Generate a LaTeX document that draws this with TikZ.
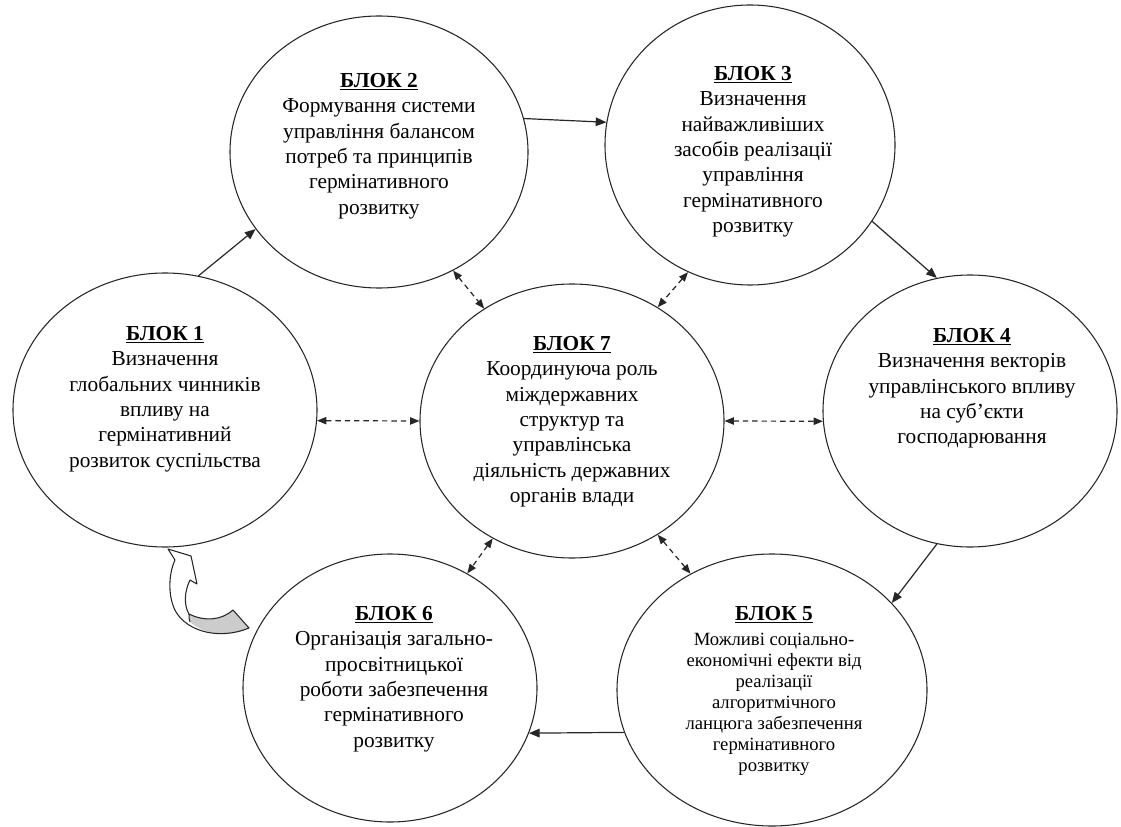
\documentclass[tikz,border=0pt]{standalone}
\usepackage{fontspec}
\setmainfont{Liberation Serif}
\usetikzlibrary{shapes.geometric,arrows.meta}
\begin{document}
\begin{tikzpicture}[x=0.75pt,y=-0.75pt,
  blk/.style={ellipse,draw=black!85,line width=0.8pt,inner sep=0pt},
  txt/.style={anchor=north,align=center,inner sep=0pt,font=\fontsize{16}{19}\selectfont},
  txtsmall/.style={anchor=north,align=center,inner sep=0pt,font=\fontsize{14}{15.8}\selectfont},
  flow/.style={draw=black!85,line width=0.9pt,-{Triangle[length=8pt,width=6.5pt]}},
  link/.style={draw=black!85,line width=0.9pt,dash pattern=on 4pt off 3pt,{Triangle[length=7pt,width=5.5pt]}-{Triangle[length=7pt,width=5.5pt]}},
  hdr/.style={font=\fontsize{16}{19}\selectfont\bfseries}
]
\useasboundingbox (0,0) rectangle (1121,827);

% ellipses
\node[blk,minimum width=228pt,minimum height=205.5pt] (b1) at (165,410) {};
\node[blk,minimum width=223.5pt,minimum height=204pt] (b2) at (379,152) {};
\node[blk,minimum width=217.5pt,minimum height=210pt] (b3) at (750,145) {};
\node[blk,minimum width=220.5pt,minimum height=204pt] (b4) at (970,411) {};
\node[blk,minimum width=232.5pt,minimum height=204pt] (b5) at (772,690) {};
\node[blk,minimum width=220.5pt,minimum height=201pt] (b6) at (390,688) {};
\node[blk,minimum width=228pt,minimum height=205.5pt] (b7) at (572,421) {};

% texts
\node[txt] (t1) at (165,326) {\underline{\textbf{БЛОК 1}}\\Визначення\\глобальних чинників\\впливу на\\гермінативний\\розвиток суспільства};
\node[txt] (t2) at (379,73) {\underline{\textbf{БЛОК 2}}\\Формування системи\\управління балансом\\потреб та принципів\\гермінативного\\розвитку};
\node[txt] (t3) at (753,66) {\underline{\textbf{БЛОК 3}}\\Визначення\\найважливіших\\засобів реалізації\\управління\\гермінативного\\розвитку};
\node[txt] (t4) at (972,328) {\underline{\textbf{БЛОК 4}}\\Визначення векторів\\управлінського впливу\\на суб’єкти\\господарювання};
\node[txtsmall] (t5) at (774,606) {{\fontsize{16}{19}\selectfont\underline{\textbf{БЛОК 5}}}\\[3pt]Можливі соціально-\\економічні ефекти від\\реалізації\\алгоритмічного\\ланцюга забезпечення\\гермінативного\\розвитку};
\node[txt] (t6) at (394,606) {\underline{\textbf{БЛОК 6}}\\Організація загально-\\просвітницької\\роботи забезпечення\\гермінативного\\розвитку};
\node[txt] (t7) at (572,336) {\underline{\textbf{БЛОК 7}}\\Координуюча роль\\міждержавних\\структур та\\управлінська\\діяльність державних\\органів влади};

% main cycle
\draw[flow] (b1.76) -- (b2.212);
\draw[flow] (b2.13) -- (b3.171);
\draw[flow] (b3.-32) -- (b4.104);
\draw[flow] (b4.-104) -- (b5.36);
\draw[flow] (b5.196) -- (b6.-18);

% dashed links with block 7
\draw[link] (b1.-4) -- (b7.180);
\draw[link] (b7.0) -- (b4.184);
\draw[link] (b2.-58) -- (b7.128);
\draw[link] (b3.-116) -- (b7.53);
\draw[link] (b7.-124) -- (b6.56);
\draw[link] (b7.-53) -- (b5.125);

% curved block arrow from block 6 to block 1
\fill[gray!40] (189,614) .. controls (205,622) and (222,620) .. (233,610) -- (249,628) .. controls (232,637) and (206,636) .. (190,622) -- cycle;
\draw[black!85,line width=0.8pt,line join=round]
  (168,549) -- (191,556) -- (197,584) -- (190,580)
  .. controls (184,592) and (184,606) .. (189,614)
  .. controls (205,622) and (222,620) .. (233,610)
  -- (249,628)
  .. controls (220,640) and (188,632) .. (176,612)
  .. controls (168,598) and (168,575) .. (175,560) -- cycle;
\draw[black!85,line width=0.8pt] (189,614) .. controls (189,617) and (189,620) .. (190,622);
\end{tikzpicture}
\end{document}
